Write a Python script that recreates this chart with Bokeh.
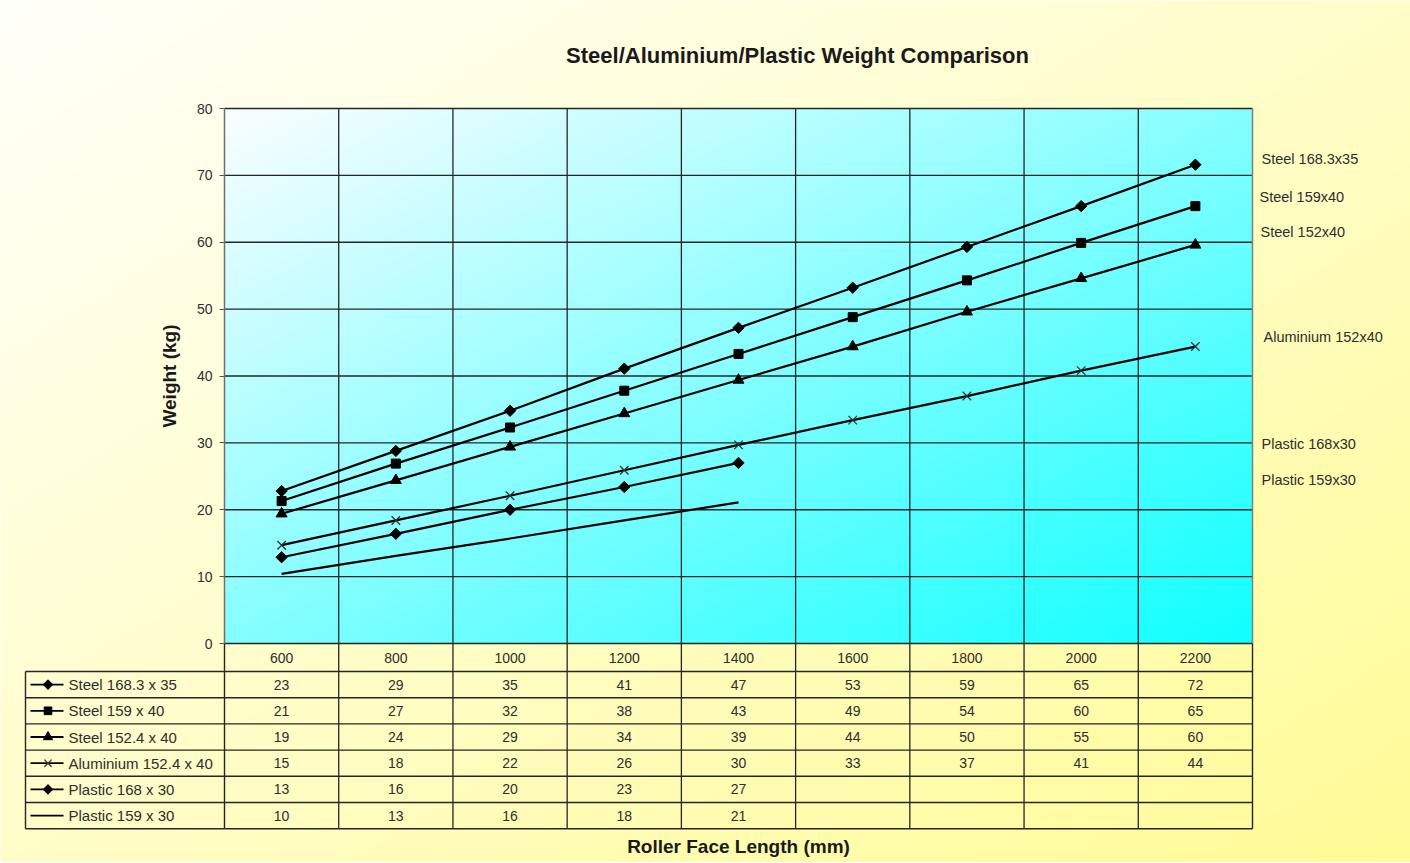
import numpy as np
from bokeh.plotting import figure
from bokeh.models import Range1d, FixedTicker, LinearAxis
from bokeh.core.properties import value
from bokeh.embed import file_html
from bokeh.resources import INLINE

# ---------------- data ----------------
lengths = [600, 800, 1000, 1200, 1400, 1600, 1800, 2000, 2200]
steel_168 = [22.8, 28.8, 34.8, 41.1, 47.2, 53.2, 59.3, 65.4, 71.6]
steel_159 = [21.3, 26.9, 32.3, 37.8, 43.3, 48.8, 54.3, 59.9, 65.4]
steel_152 = [19.4, 24.4, 29.4, 34.4, 39.4, 44.4, 49.6, 54.6, 59.6]
alu_152 = [14.7, 18.4, 22.1, 25.9, 29.7, 33.4, 37.0, 40.8, 44.4]
plastic_168 = [12.9, 16.4, 20.0, 23.4, 27.0]
plastic_159 = [10.4, 13.1, 15.7, 18.4, 21.1]

table_names = ["Steel 168.3 x 35", "Steel 159 x 40", "Steel 152.4 x 40",
               "Aluminium 152.4 x 40", "Plastic 168 x 30", "Plastic 159 x 30"]
side_names = ["Steel 168.3x35", "Steel 159x40", "Steel 152x40",
              "Aluminium 152x40", "Plastic 168x30", "Plastic 159x30"]
markers = ["diamond", "square", "triangle", "x", "diamond", None]
series = [steel_168, steel_159, steel_152, alu_152, plastic_168, plastic_159]
y_ticks = [0, 10, 20, 30, 40, 50, 60, 70, 80]

FONT = "Liberation Sans"
TXT = "#2e2e2e"
LINE = "#262626"

# ---------------- layout constants (canvas pixels) ----------------
W, H = 1410, 862
FRAME_L, FRAME_R = 224, 1252
PLOT_TOP, PLOT_ZERO = 108, 643
HEAD_BOT = 671
ROW_H = 26.2
LEG_L = 25
PX_PER_Y = (PLOT_ZERO - PLOT_TOP) / 80.0
PX_PER_X = (FRAME_R - FRAME_L) / 1800.0
x_lo, x_hi = 500, 2300


def X(px):
    return x_lo + (px - FRAME_L) / PX_PER_X


def Y(py):
    return (PLOT_ZERO - py) / PX_PER_Y


p = figure(width=W, height=H, output_backend="svg", toolbar_location=None,
           x_range=Range1d(X(0), X(W)), y_range=Range1d(Y(H), Y(0)),
           x_axis_type=None, y_axis_type=None,
           min_border_left=0, min_border_right=0, min_border_top=0, min_border_bottom=0)
p.outline_line_color = None
p.border_fill_alpha = 0
p.background_fill_color = "#FFFFE0"


def gradient(h, w, c0, c1):
    u = np.linspace(0, 1, w)[None, :]
    v = (1 - np.linspace(0, 1, h))[:, None]
    t = (u + v) / 2.0
    img = np.empty((h, w), dtype=np.uint32)
    view = img.view(dtype=np.uint8).reshape((h, w, 4))
    for k in range(3):
        view[..., k] = np.round(c0[k] + (c1[k] - c0[k]) * t).astype(np.uint8)
    view[..., 3] = 255
    return img


# page background (cream -> yellow)
p.image_rgba(image=[gradient(240, 400, (255, 255, 250), (255, 251, 150))],
             x=X(0), y=Y(H), dw=X(W) - X(0), dh=Y(0) - Y(H), level="image")
# plot-area background (white -> cyan)
p.image_rgba(image=[gradient(120, 240, (250, 253, 255), (15, 255, 255))],
             x=x_lo, y=0, dw=x_hi - x_lo, dh=80, level="image")

# y axis (drawn at the plot-area edge, limited to 0..80)
yax = LinearAxis(fixed_location=x_lo, bounds=(0, 80), ticker=FixedTicker(ticks=y_ticks))
yax.minor_tick_line_color = None
yax.major_tick_in = 0
yax.major_tick_out = 5
yax.major_tick_line_color = "#555555"
yax.axis_line_color = "#707070"
yax.axis_line_width = 1.5
yax.major_label_text_font = FONT
yax.major_label_text_font_size = "14px"
yax.major_label_text_color = TXT
yax.major_label_standoff = 7
yax.axis_label = "Weight (kg)"
yax.axis_label_text_font = FONT
yax.axis_label_text_font_size = "19px"
yax.axis_label_text_font_style = "bold"
yax.axis_label_text_color = "#1a1a1a"
yax.axis_label_standoff = 14
p.add_layout(yax, "left")

n_rows = len(series)
row_edges = [Y(HEAD_BOT + ROW_H * i) for i in range(n_rows + 1)]
row_mid = [Y(HEAD_BOT + ROW_H * (i + 0.5)) for i in range(n_rows)]
tab_bottom = row_edges[-1]

# horizontal grid lines of the plot area
p.segment(x0=[x_lo] * len(y_ticks), y0=y_ticks, x1=[x_hi] * len(y_ticks), y1=y_ticks,
          line_color=LINE, line_width=1.3)
# vertical cell boundaries through plot area + table
bounds_x = list(range(x_lo + 200, x_hi, 200))
p.segment(x0=bounds_x, y0=[80] * len(bounds_x), x1=bounds_x, y1=[tab_bottom] * len(bounds_x),
          line_color=LINE, line_width=1.3)
# right edge of plot area (gray) and of table (dark)
p.segment(x0=[x_hi], y0=[80], x1=[x_hi], y1=[0], line_color="#808080", line_width=1.5)
p.segment(x0=[x_lo, x_hi], y0=[0, 0], x1=[x_lo, x_hi], y1=[tab_bottom, tab_bottom],
          line_color=LINE, line_width=1.4)
# table horizontal lines and left border
p.segment(x0=[X(LEG_L)] * (n_rows + 1), y0=row_edges, x1=[x_hi] * (n_rows + 1), y1=row_edges,
          line_color=LINE, line_width=1.4)
p.segment(x0=[X(LEG_L)], y0=[row_edges[0]], x1=[X(LEG_L)], y1=[tab_bottom],
          line_color=LINE, line_width=1.4)


def draw_marker(xs, ys, mk, scale=1.0):
    if mk == "x":
        p.scatter(xs, ys, marker="x", size=12 * scale, line_color="#333333", line_width=1.3)
    elif mk == "diamond":
        p.scatter(xs, ys, marker="square", angle=np.pi / 4, size=8 * scale,
                  fill_color="black", line_color="black")
    elif mk == "square":
        p.scatter(xs, ys, marker="square", size=9 * scale, fill_color="black", line_color="black")
    elif mk == "triangle":
        p.scatter(xs, ys, marker="triangle", size=11 * scale, fill_color="black", line_color="black")


# series
for ys, mk in zip(series, markers):
    xs = lengths[:len(ys)]
    p.line(xs, ys, line_color="black", line_width=2.2)
    draw_marker(xs, ys, mk)

# header row: category labels
p.text(x=lengths, y=[Y((PLOT_ZERO + HEAD_BOT) / 2)] * len(lengths),
       text=[str(c) for c in lengths], text_align="center", text_baseline="middle",
       text_font=value(FONT), text_font_size=value("14px"), text_color=TXT)

# legend samples + names in the table
for i, (name, mk) in enumerate(zip(table_names, markers)):
    yc = row_mid[i]
    p.line([X(30), X(63)], [yc, yc], line_color="black", line_width=1.8)
    draw_marker([X(47.5)], [yc], mk, scale=0.85)
p.text(x=[X(68)] * n_rows, y=row_mid, text=table_names, text_align="left", text_baseline="middle",
       text_font=value(FONT), text_font_size=value("15px"), text_color=TXT)

# table values
cx, cy, ct = [], [], []
for i, ys in enumerate(series):
    for xv, yv in zip(lengths, ys):
        cx.append(xv)
        cy.append(row_mid[i])
        ct.append(str(int(np.floor(yv + 0.5))))
p.text(x=cx, y=cy, text=ct, text_align="center", text_baseline="middle",
       text_font=value(FONT), text_font_size=value("14px"), text_color=TXT)

# right-side series labels
side_y = [72.4, 66.8, 61.6, 45.8, 29.9, 24.5]
side_px = [1261, 1259, 1260, 1263, 1261, 1261]
p.text(x=[X(px) for px in side_px], y=side_y, text=side_names, text_align="left",
       text_baseline="middle", text_font=value(FONT), text_font_size=value("14.5px"),
       text_color=TXT)

# chart title and x-axis title
p.text(x=[X(797)], y=[Y(55)], text=["Steel/Aluminium/Plastic Weight Comparison"],
       text_align="center", text_baseline="middle", text_font=value(FONT),
       text_font_size=value("22px"), text_font_style="bold", text_color="#1a1a1a")
p.text(x=[(x_lo + x_hi) / 2], y=[Y(846)], text=["Roller Face Length (mm)"],
       text_align="center", text_baseline="middle", text_font=value(FONT),
       text_font_size=value("19px"), text_font_style="bold", text_color="#1a1a1a")

open("out.html", "w").write(file_html(p, INLINE))
